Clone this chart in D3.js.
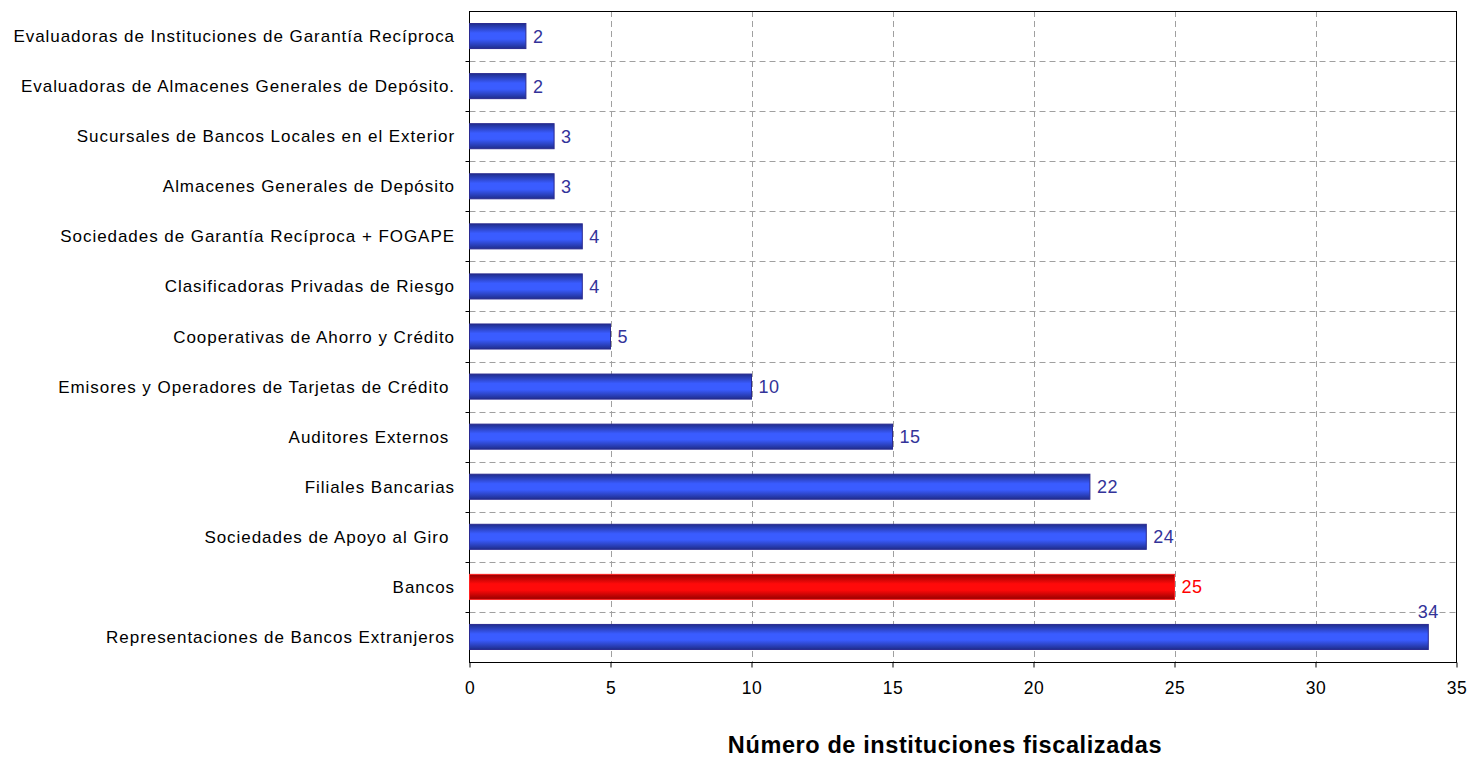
<!DOCTYPE html>
<html>
<head>
<meta charset="utf-8">
<script src="https://cdn.jsdelivr.net/npm/d3@7"></script>
<style>
  html, body { margin: 0; padding: 0; background: #ffffff; }
  svg { display: block; font-family: Arial, "Liberation Sans", sans-serif; }
</style>
</head>
<body>
<svg id="chart" width="1469" height="758"></svg>
<script>
// Institutions supervised, by type (top to bottom as drawn)
const categories = [
  "Evaluadoras de Instituciones de Garantía Recíproca",
  "Evaluadoras de Almacenes Generales de Depósito.",
  "Sucursales de Bancos Locales en el Exterior",
  "Almacenes Generales de Depósito",
  "Sociedades de Garantía Recíproca + FOGAPE",
  "Clasificadoras Privadas de Riesgo",
  "Cooperativas de Ahorro y Crédito",
  "Emisores y Operadores de Tarjetas de Crédito ",
  "Auditores Externos ",
  "Filiales Bancarias",
  "Sociedades de Apoyo al Giro ",
  "Bancos",
  "Representaciones de Bancos Extranjeros"
];
const values = [2, 2, 3, 3, 4, 4, 5, 10, 15, 22, 24, 25, 34];
const highlighted = ["Bancos"];
const xTicks = [0, 5, 10, 15, 20, 25, 30, 35];
const axisTitle = "Número de instituciones fiscalizadas";

const svg = d3.select("#chart");
const plot = { left: 469.5, right: 1456.5, top: 11, bottom: 662 };

const x = d3.scaleLinear().domain([0, 35]).range([plot.left, plot.right]);
const y = d3.scaleBand().domain(categories).range([plot.top, plot.bottom])
  .paddingInner(0.5).paddingOuter(0.25);

// Bar gradients: dark edges, bright centre
const defs = svg.append("defs");
function grad(id, edge, mid) {
  const g = defs.append("linearGradient").attr("id", id)
    .attr("x1", 0).attr("y1", 0).attr("x2", 0).attr("y2", 1);
  g.append("stop").attr("offset", "0%").attr("stop-color", edge);
  g.append("stop").attr("offset", "38%").attr("stop-color", mid);
  g.append("stop").attr("offset", "62%").attr("stop-color", mid);
  g.append("stop").attr("offset", "100%").attr("stop-color", edge);
}
grad("gBlue", "#1f2d8c", "#3a5cff");
grad("gRed", "#950000", "#ff0a0a");

// Gridlines
const step = y.step();
const gridY = d3.range(1, categories.length).map(i => plot.top + i * step);
svg.append("g").selectAll("line").data(gridY).join("line")
  .attr("x1", plot.left).attr("x2", plot.right)
  .attr("y1", d => Math.round(d) + 0.5).attr("y2", d => Math.round(d) + 0.5)
  .attr("stroke", "#a0a0a0").attr("stroke-width", 1)
  .attr("stroke-dasharray", "6,4");
svg.append("g").selectAll("line").data(xTicks.filter(t => t > 0 && t < 35)).join("line")
  .attr("x1", d => Math.round(x(d)) + 0.5).attr("x2", d => Math.round(x(d)) + 0.5)
  .attr("y1", plot.top).attr("y2", plot.bottom)
  .attr("stroke", "#a0a0a0").attr("stroke-width", 1)
  .attr("stroke-dasharray", "6,4");

// Plot frame
svg.append("rect")
  .attr("x", plot.left).attr("y", plot.top + 0.5)
  .attr("width", plot.right - plot.left).attr("height", plot.bottom - plot.top)
  .attr("fill", "none").attr("stroke", "#000").attr("stroke-width", 1);

// Small ticks on the category axis
svg.append("g").selectAll("line").data(gridY).join("line")
  .attr("x1", plot.left - 4).attr("x2", plot.left)
  .attr("y1", d => Math.round(d) + 0.5).attr("y2", d => Math.round(d) + 0.5)
  .attr("stroke", "#000");

// Value axis
const xAxis = svg.append("g")
  .attr("transform", `translate(0,${plot.bottom + 0.5})`)
  .call(d3.axisBottom(x).tickValues(xTicks).tickSize(5).tickPadding(14));
xAxis.select(".domain").remove();
xAxis.selectAll(".tick line").attr("stroke", "#000");
xAxis.selectAll(".tick text")
  .attr("font-size", 17.5).attr("fill", "#000")
  .attr("letter-spacing", 0.5)
  .attr("font-family", "Arial, 'Liberation Sans', sans-serif");

// Bars
const isHi = c => highlighted.includes(c);
svg.append("g").selectAll("rect").data(categories).join("rect")
  .attr("x", x(0))
  .attr("y", c => y(c))
  .attr("width", (c, i) => x(values[i]) - x(0))
  .attr("height", y.bandwidth())
  .attr("fill", c => isHi(c) ? "url(#gRed)" : "url(#gBlue)")
  .attr("stroke", c => isHi(c) ? "#ff2020" : "#2a2a90")
  .attr("stroke-width", 1);

// Value labels
svg.append("g").selectAll("text").data(categories).join("text")
  .attr("x", (c, i) => values[i] >= 34 ? x(values[i]) : x(values[i]) + 7)
  .attr("y", (c, i) => values[i] >= 34 ? y(c) - 6 : y(c) + y.bandwidth() / 2 + 6.5)
  .attr("text-anchor", (c, i) => values[i] >= 34 ? "middle" : "start")
  .attr("font-size", 18).attr("letter-spacing", 0.5)
  .attr("fill", c => isHi(c) ? "#ff0000" : "#333399")
  .text((c, i) => values[i]);

// Category labels
svg.append("g").selectAll("text").data(categories).join("text")
  .attr("x", 455)
  .attr("y", c => y(c) + y.bandwidth() / 2 + 6)
  .attr("text-anchor", "end")
  .attr("font-size", 17).attr("letter-spacing", 0.95)
  .attr("fill", "#000")
  .style("white-space", "pre")
  .text(c => c);

// Axis title
svg.append("text")
  .attr("x", 945).attr("y", 753)
  .attr("text-anchor", "middle")
  .attr("font-size", 23.5).attr("font-weight", "bold").attr("letter-spacing", 0.6)
  .attr("fill", "#000")
  .text(axisTitle);
</script>
</body>
</html>
